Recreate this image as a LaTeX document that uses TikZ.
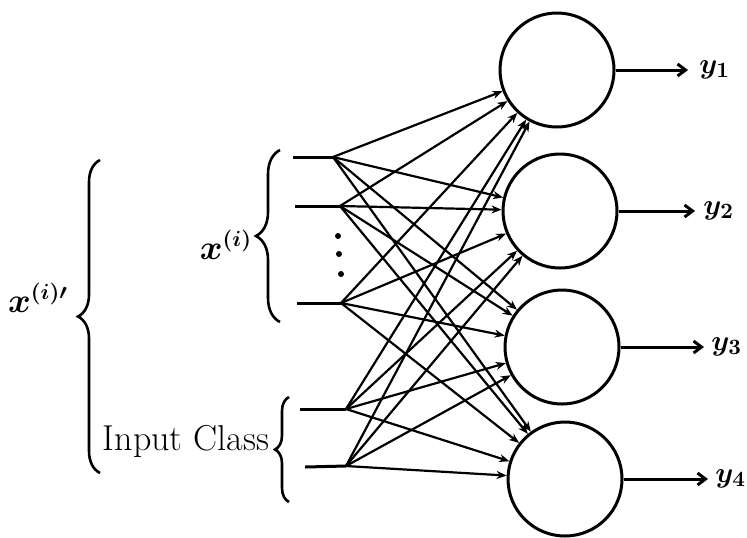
\documentclass[tikz,border=0pt]{standalone}
\usepackage{amsmath}
\usetikzlibrary{arrows.meta,decorations.pathreplacing}
\begin{document}
\begin{tikzpicture}[x=0.5pt,y=-0.5pt,
  neuron/.style={circle,draw,line width=1.5pt,minimum size=57pt,inner sep=0pt},
  wire/.style={line width=1.5pt},
  link/.style={line width=1.1pt,-{Stealth[length=5pt,width=4pt]}},
  outarrow/.style={line width=1.5pt,-{Straight Barb[length=4pt,width=6pt]}},
  bracepath/.style={line width=1.3pt,decorate,decoration={brace,amplitude=#1}},
  lbl/.style={font=\fontsize{16}{19}\selectfont\boldmath},
  ylbl/.style={font=\fontsize{15}{18}\selectfont\boldmath,anchor=west,inner sep=1pt}]
\useasboundingbox (0,0) rectangle (747,537);
% neurons
\node[neuron] (n1) at (557,70) {};
\node[neuron] (n2) at (560,211) {};
\node[neuron] (n3) at (562,347) {};
\node[neuron] (n4) at (565,479) {};
% inputs
\coordinate (s1) at (293,157); \coordinate (f1) at (333,157);
\coordinate (s2) at (295,206); \coordinate (f2) at (340,206);
\coordinate (s3) at (297,303); \coordinate (f3) at (341,303);
\coordinate (s4) at (300,409); \coordinate (f4) at (346,409);
\coordinate (s5) at (305,467); \coordinate (f5) at (346,466);
\foreach \i in {1,...,5}{
  \draw[wire] (s\i) -- (f\i);
  \foreach \j in {1,...,4}{
    \draw[link] (f\i) -- (n\j);
  }
}
% dots
\fill (338,236) circle[radius=3];
\fill (339,254) circle[radius=3];
\fill (341,274) circle[radius=3];
% outputs
\coordinate (o1) at (688,70);
\coordinate (o2) at (695,211);
\coordinate (o3) at (704,347);
\coordinate (o4) at (708,479);
\draw[outarrow] (n1.east) -- (o1);
\draw[outarrow] (n2.east) -- (o2);
\draw[outarrow] (n3.east) -- (o3);
\draw[outarrow] (n4.east) -- (o4);
\node[ylbl] (y1) at (697,70) {$y_1$};
\node[ylbl] (y2) at (701,211) {$y_2$};
\node[ylbl] (y3) at (709,347) {$y_3$};
\node[ylbl] (y4) at (713,479) {$y_4$};
% braces
\draw[bracepath=12pt] (280,322) -- (280,150);
\draw[bracepath=11pt] (100,473) -- (100,160);
\draw[bracepath=7pt] (289,502) -- (289,397);
\node[lbl] (xi) at (226,245) {$x^{(i)}$};
\node[lbl] (xip) at (38,298) {$x^{(i)\prime}$};
\node[lbl,font=\fontsize{18}{21}\selectfont] (ic) at (186,441) {Input Class};
\end{tikzpicture}
\end{document}
